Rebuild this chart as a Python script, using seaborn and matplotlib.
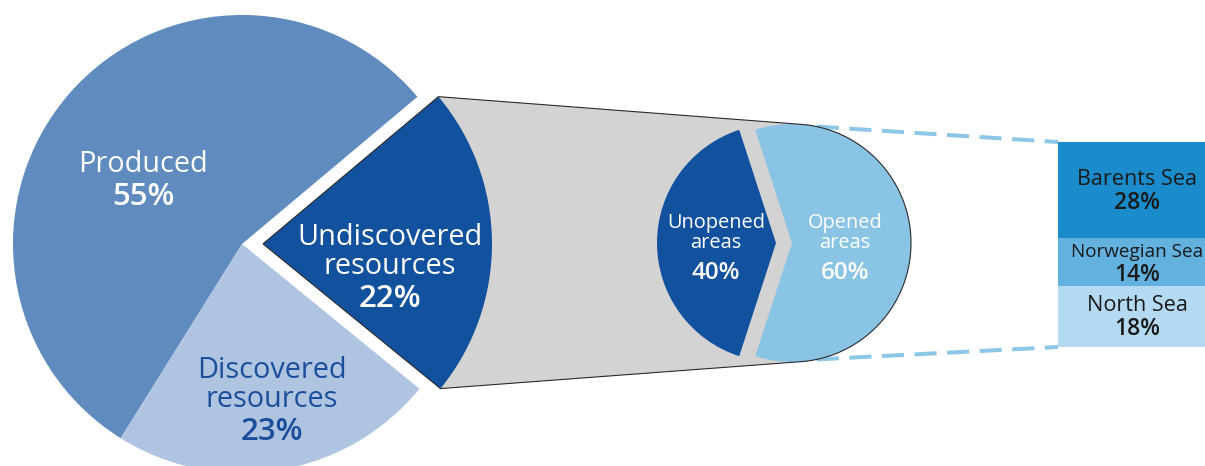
import numpy as np
import matplotlib
matplotlib.use("Agg")
import matplotlib.pyplot as plt
from matplotlib.patches import Polygon
import seaborn as sns

# Total petroleum resources by status (%)
res_labels = ["Produced", "Discovered\nresources", "Undiscovered\nresources"]
res_values = [55, 23, 22]

# Undiscovered resources split by area status (%)
area_labels = ["Unopened\nareas", "Opened\nareas"]
area_values = [40, 60]

# Opened areas split by sea (% of undiscovered resources)
sea_labels = ["Barents Sea", "Norwegian Sea", "North Sea"]
sea_values = [28, 14, 18]

W, H = 1205, 466

sns.set_theme(style="white")
plt.rcParams["font.family"] = ["Open Sans", "DejaVu Sans"]

fig = plt.figure(figsize=(W / 100, H / 100), dpi=100)
ax = fig.add_axes([0, 0, 1, 1])


def Y(y):
    """Layout helper: measure heights from the top edge."""
    return H - y


# ---- main pie ----
res_colors = ["#608bbe", "#aec4e0", "#11519e"]
res_text_colors = ["white", "#1b4f9c", "white"]
main_center = (242, Y(244))
main_r = 229
res_wedges, _ = ax.pie(res_values, colors=res_colors, startangle=40,
                       counterclock=True, center=main_center, radius=main_r,
                       explode=[0, 0, 21],
                       wedgeprops=dict(linewidth=0, zorder=2))

# ---- breakdown pie of undiscovered resources ----
area_colors = ["#11519e", "#89c4e5"]
small_center = (784, Y(243))
small_r = 119
area_wedges, _ = ax.pie(area_values, colors=area_colors, startangle=108,
                        counterclock=True, center=small_center, radius=small_r,
                        explode=[8, 8],
                        wedgeprops=dict(linewidth=0, zorder=2))

# ---- grey funnel joining the undiscovered wedge to the breakdown pie ----
und = res_wedges[2]
V = np.array(und.center)
T = V + und.r * np.array([np.cos(np.radians(und.theta2)), np.sin(np.radians(und.theta2))])
B = V + und.r * np.array([np.cos(np.radians(und.theta1)), np.sin(np.radians(und.theta1))])
opn = area_wedges[1]
C2 = np.array(opn.center)
r2 = opn.r


def tangent_angle(P, sign):
    d = P - C2
    phi = np.arctan2(d[1], d[0])
    alpha = np.arccos(r2 / np.hypot(*d))
    return phi + sign * alpha


a_top = tangent_angle(T, -1)
a_bot = tangent_angle(B, +1)
if a_bot > a_top:
    a_bot -= 2 * np.pi
arc = np.linspace(a_top, a_bot, 200)
arc_pts = np.column_stack([C2[0] + r2 * np.cos(arc), C2[1] + r2 * np.sin(arc)])
funnel = np.vstack([V, T, arc_pts, B])
ax.add_patch(Polygon(funnel, closed=True, facecolor="#d3d3d3",
                     edgecolor="none", zorder=1))
ax.add_patch(Polygon(funnel, closed=True, fill=False,
                     edgecolor="#2b2b2b", linewidth=0.8, zorder=3))

# ---- stacked bar of opened areas by sea ----
bar_left, bar_right, bar_top, bar_bottom = 1058, 1216, 142, 347
bax = fig.add_axes([bar_left / W, Y(bar_bottom) / H,
                    (bar_right - bar_left) / W, (bar_bottom - bar_top) / H])
sea_colors = ["#1b8ccb", "#63b1de", "#b4daf1"]
# stack bottom-up: North Sea, Norwegian Sea, Barents Sea
order = [2, 1, 0]
tops = np.cumsum([sea_values[i] for i in order])
for k in reversed(range(len(order))):
    sns.barplot(x=["Opened areas"], y=[tops[k]], color=sea_colors[order[k]],
                saturation=1, width=1, linewidth=0, ax=bax)
bax.set_xlim(-0.5, 0.5)
bax.set_ylim(0, tops[-1])
bax.axis("off")

renderer = fig.canvas.get_renderer()
for k, i in enumerate(order):
    mid = tops[k] - sea_values[i] / 2
    name_txt = bax.annotate(sea_labels[i], xy=(0, mid), xytext=(0, 5),
                            textcoords="offset pixels", ha="center",
                            va="baseline", fontsize=15.6, color="#1a1a1a")
    # shrink a name that would run past the right edge of the figure
    bb = name_txt.get_window_extent(renderer)
    room = 2 * (W - 2 - (bb.x0 + bb.x1) / 2)
    if bb.width > room:
        name_txt.set_fontsize(15.6 * room / bb.width)
    bax.annotate(f"{sea_values[i]}%", xy=(0, mid), xytext=(0, -19),
                 textcoords="offset pixels", ha="center", va="baseline",
                 fontsize=16.5, fontweight="semibold", color="#1a1a1a")

# ---- dashed leader lines from the opened wedge to the bar ----
for sgn, yb in [(1, bar_top), (-1, bar_bottom)]:
    a = np.radians(78) * sgn
    start = C2 + r2 * np.array([np.cos(a), np.sin(a)])
    ax.plot([start[0], bar_left], [start[1], Y(yb)], color="#8dc7e8",
            linewidth=2.9, dashes=(5.5, 2.6), solid_capstyle="butt",
            zorder=0.5)

# ---- labels ----
def draw_label(x, y0, name, value, step, gap, size, pct_size, color):
    lines = name.split("\n")
    for j, line in enumerate(lines):
        ax.text(x, Y(y0 + j * step), line, ha="center", va="baseline",
                fontsize=size, color=color, zorder=5)
    ax.text(x, Y(y0 + (len(lines) - 1) * step + gap), f"{value}%",
            ha="center", va="baseline", fontsize=pct_size,
            fontweight="semibold", color=color, zorder=5)


res_anchor = [(143, 172), (272, 378), (390, 245)]
for (x, y0), name, v, c in zip(res_anchor, res_labels, res_values, res_text_colors):
    draw_label(x, y0, name, v, 29, 33, 20.8, 22.5, c)

area_anchor = [(716, 228), (845, 228)]
for (x, y0), name, v in zip(area_anchor, area_labels, area_values):
    draw_label(x, y0, name, v, 20, 31, 14.4, 17.5, "white")

ax.set_xlim(0, W)
ax.set_ylim(0, H)
ax.set_aspect("auto")
ax.axis("off")

fig.savefig("out.png", dpi=100, facecolor="white")
